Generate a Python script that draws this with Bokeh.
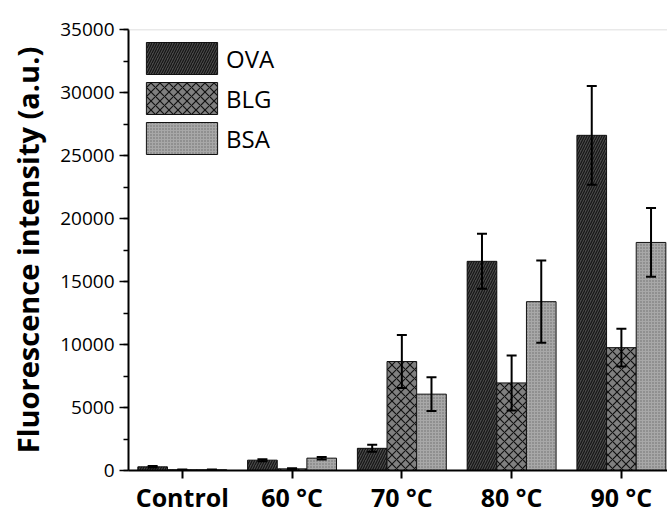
import numpy as np
from bokeh.plotting import figure
from bokeh.models import (ColumnDataSource, Range1d, FixedTicker, SingleIntervalTicker,
                          Whisker, Legend, LegendItem, Span)
from bokeh.embed import file_html
from bokeh.resources import INLINE

categories = ["Control", "60 \u00b0C", "70 \u00b0C", "80 \u00b0C", "90 \u00b0C"]
series = ["OVA", "BLG", "BSA"]
ova = [290, 820, 1760, 16600, 26600]
ova_err = [60, 80, 280, 2180, 3920]
blg = [60, 130, 8650, 6950, 9750]
blg_err = [20, 40, 2100, 2180, 1500]
bsa = [60, 980, 6060, 13400, 18100]
bsa_err = [20, 100, 1340, 3260, 2730]

FONT = "Open Sans"
W, H = 667, 516
p = figure(width=W, height=H, output_backend="svg", toolbar_location=None,
           x_range=Range1d(-0.49, 4.42), y_range=Range1d(0, 35000),
           min_border_left=128, min_border_right=0, min_border_top=29,
           min_border_bottom=46)
p.outline_line_color = None
p.xgrid.visible = False
p.ygrid.visible = False
p.background_fill_color = "white"
p.border_fill_color = "white"

idx = np.arange(len(categories))
bw = 0.27
offsets = [-bw, 0.0, bw]
vals = [ova, blg, bsa]
errs = [ova_err, blg_err, bsa_err]
styles = [
    dict(fill_color="#4a4a4a", hatch_pattern="right_diagonal_line", hatch_color="#151515",
         hatch_scale=5, hatch_weight=1.2),
    dict(fill_color="#808080", hatch_pattern="diagonal_cross", hatch_color="#111111",
         hatch_scale=9, hatch_weight=1.2),
    dict(fill_color="#a8a8a8", hatch_pattern="dot", hatch_color="#6a6a6a",
         hatch_scale=3, hatch_weight=1),
]
items = []
for s, off, v, e, st in zip(series, offsets, vals, errs, styles):
    v = np.array(v, dtype=float)
    e = np.array(e, dtype=float)
    src = ColumnDataSource(dict(x=idx + off, top=v, lo=v - e, hi=v + e))
    r = p.vbar(x="x", top="top", width=bw, bottom=0, source=src,
               line_color="#111111", line_width=1, **st)
    items.append(LegendItem(label=s, renderers=[r]))
    w = Whisker(base="x", lower="lo", upper="hi", source=src, line_color="black",
                line_width=2, level="overlay")
    w.upper_head.size = 10
    w.lower_head.size = 10
    w.upper_head.line_width = 2
    w.lower_head.line_width = 2
    p.add_layout(w)

p.add_layout(Span(location=35000, dimension="width", line_color="#d4d4d4", line_width=1.5))

legend = Legend(items=items, location=(9, 312), padding=0, spacing=0,
                glyph_width=89, glyph_height=40, label_standoff=0,
                label_text_font=FONT, label_text_font_size="24px",
                label_text_color="black", label_height=40,
                border_line_alpha=0, background_fill_alpha=0, margin=0)
p.add_layout(legend)

# x axis
p.xaxis.ticker = FixedTicker(ticks=list(idx))
p.xaxis.major_label_overrides = {int(i): c for i, c in zip(idx, categories)}
p.xaxis.major_label_text_font = FONT
p.xaxis.major_label_text_font_size = "25px"
p.xaxis.major_label_text_font_style = "bold"
p.xaxis.major_label_text_color = "black"
p.xaxis.major_tick_out = 8
p.xaxis.major_tick_in = 0
p.xaxis.minor_tick_line_color = None
p.xaxis.axis_line_width = 2
p.xaxis.major_tick_line_width = 2
p.xaxis.major_label_standoff = 1
p.xaxis.axis_label_standoff = 0

# y axis
p.yaxis.ticker = SingleIntervalTicker(interval=5000, num_minor_ticks=2)
p.yaxis.major_label_text_font = FONT
p.yaxis.major_label_text_font_size = "19px"
p.yaxis.major_label_text_color = "black"
p.yaxis.major_tick_out = 9
p.yaxis.major_tick_in = 0
p.yaxis.minor_tick_out = 5
p.yaxis.minor_tick_in = 0
p.yaxis.axis_line_width = 2
p.yaxis.major_tick_line_width = 1.5
p.yaxis.minor_tick_line_width = 1.5
p.yaxis.major_label_standoff = 5
p.yaxis.axis_label = "Fluorescence intensity (a.u.)"
p.yaxis.axis_label_text_font = FONT
p.yaxis.axis_label_text_font_size = "29px"
p.yaxis.axis_label_text_font_style = "bold"
p.yaxis.axis_label_text_color = "black"
p.yaxis.axis_label_standoff = 10
p.yaxis.formatter.use_scientific = False

open("out.html", "w").write(file_html(p, INLINE))
